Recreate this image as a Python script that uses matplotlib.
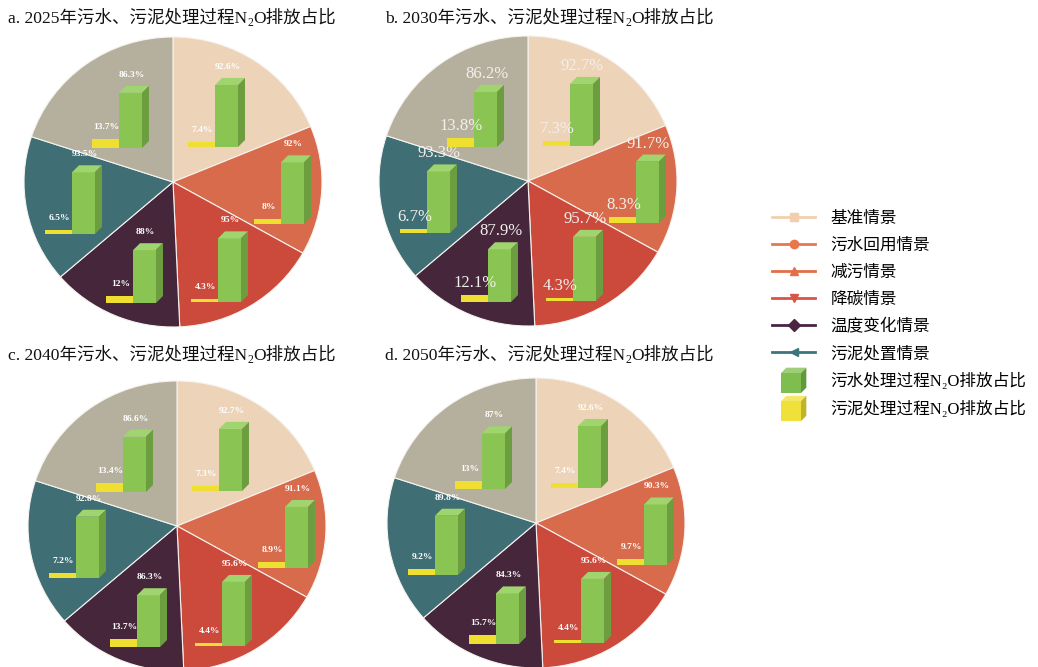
import numpy as np
import matplotlib
matplotlib.use('Agg')
import matplotlib.pyplot as plt
from matplotlib.lines import Line2D
from matplotlib.patches import Patch, Polygon
from matplotlib.legend_handler import HandlerBase
from matplotlib.colors import to_rgb

plt.rcParams['font.family'] = ['Liberation Serif', 'DejaVu Serif', 'Noto Sans CJK SC']

# ---- data ----
years = ['2025', '2030', '2040', '2050']
panel_tags = ['a', 'b', 'c', 'd']
scenarios = ['基准情景', '污水回用情景', '减污情景', '降碳情景', '温度变化情景', '污泥处置情景']

# pie slices, clockwise from 12 o'clock
slice_sizes = [67.5, 51.9, 58.0, 51.7, 59.1, 71.8]

# share of N2O from wastewater treatment (green) per slice, one row per year
wastewater_share = [
    [92.6, 92.0, 95.0, 88.0, 93.5, 86.3],
    [92.7, 91.7, 95.7, 87.9, 93.3, 86.2],
    [92.7, 91.1, 95.6, 86.3, 92.8, 86.6],
    [92.6, 90.3, 95.6, 84.3, 89.8, 87.0],
]
# share of N2O from sludge treatment (yellow)
sludge_share = [
    [7.4, 8.0, 4.3, 12.0, 6.5, 13.7],
    [7.3, 8.3, 4.3, 12.1, 6.7, 13.8],
    [7.3, 8.9, 4.4, 13.7, 7.2, 13.4],
    [7.4, 9.7, 4.4, 15.7, 9.2, 13.0],
]

# ---- styling / layout ----
W, H = 1038, 667
slice_colors = ['#EDD3B7', '#D86B4C', '#CB4A3B', '#45263B', '#3F6F75', '#B5B09E']
legend_colors = ['#F1CFAE', '#E8774E', '#E46E4A', '#D95347', '#4A2541', '#3E747B']
legend_markers = ['s', 'o', '^', 'v', 'D', '<']
green_front, green_top, green_side = '#8AC553', '#A0D46E', '#6C9E3F'
yellow_c = '#EEDF30'

pie_centers = [(173, 182), (528, 181), (177, 526), (536, 523)]
rx, ry = 149, 145
title_pos = [(8, 18), (385, 18), (8, 355), (385, 355)]

# green bar left edge / baseline relative to pie centre (px, y downward)
bar_offsets = [(42, -35), (108, 42), (45, 120), (-40, 121), (-101, 52), (-54, -34)]
px_per_pct = [0.67, 0.67, 0.67, 0.60, 0.66, 0.64]
yellow_w, green_w, depth = 27, 23, 7


def fig_box(left, top, w, h):
    return [left / W, 1 - (top + h) / H, w / W, h / H]


fig = plt.figure(figsize=(W / 100, H / 100), dpi=100)

for p in range(4):
    cx, cy = pie_centers[p]
    ax = fig.add_axes(fig_box(cx - 1.25 * rx, cy - 1.25 * ry, 2.5 * rx, 2.5 * ry))
    ax.pie(slice_sizes, colors=slice_colors, startangle=90, counterclock=False,
           wedgeprops=dict(edgecolor='#f6f3ef', linewidth=0.8))
    ax.set_aspect('auto')
    ax.set_xlim(-1.25, 1.25)
    ax.set_ylim(-1.25, 1.25)

    # title with subscript
    tx, ty = title_pos[p]
    t1 = ax.annotate('%s. %s年污水、污泥处理过程N' % (panel_tags[p], years[p]),
                     xy=(tx, H - ty), xycoords='figure pixels', fontsize=12.6,
                     ha='left', va='center', color='#111111', annotation_clip=False)
    t2 = ax.annotate('2', xy=(1, 0), xycoords=t1, xytext=(0.2, -1.8),
                     textcoords='offset points', fontsize=8.5, ha='left', va='bottom',
                     color='#111111', annotation_clip=False)
    ax.annotate('O排放占比', xy=(1, 0), xycoords=(t2, t1), xytext=(0.2, 0),
                textcoords='offset points', fontsize=12.6, ha='left', va='bottom',
                color='#111111', annotation_clip=False)

    if p == 1:
        lab_kw = dict(fontsize=12, fontweight='normal', color='#f3efeb')
    else:
        lab_kw = dict(fontsize=6.8, fontweight='bold', color='white')

    for s in range(6):
        dx, dy = bar_offsets[s]
        ppp = px_per_pct[s]
        gx, by = cx + dx, cy + dy
        box_w = yellow_w + green_w + depth
        box_h = 100 * ppp
        bax = fig.add_axes(fig_box(gx - yellow_w, by - box_h, box_w, box_h))
        bax.set_xlim(0, box_w)
        bax.set_ylim(0, 100)
        bax.axis('off')
        bax.patch.set_alpha(0)

        yv = sludge_share[p][s]
        gv = wastewater_share[p][s]
        ddy = depth / ppp

        bax.bar(0, yv, width=yellow_w, align='edge', color=yellow_c,
                edgecolor='none', clip_on=False)
        bax.bar(yellow_w, gv, width=green_w, align='edge', color=green_front,
                edgecolor='none', clip_on=False)
        x0, x1 = yellow_w, yellow_w + green_w
        top_face = Polygon([(x0, gv), (x1, gv), (x1 + depth, gv + ddy), (x0 + depth, gv + ddy)],
                           closed=True, facecolor=green_top, edgecolor='none', clip_on=False)
        side_face = Polygon([(x1, 0), (x1 + depth, ddy), (x1 + depth, gv + ddy), (x1, gv)],
                            closed=True, facecolor=green_side, edgecolor='none', clip_on=False)
        bax.add_patch(top_face)
        bax.add_patch(side_face)

        bax.annotate('%g%%' % gv, xy=(x0 + green_w / 2 + 1, gv + ddy),
                     xytext=(0, 11), textcoords='offset pixels', ha='center', va='center',
                     annotation_clip=False, **lab_kw)
        bax.annotate('%g%%' % yv, xy=(yellow_w / 2 + 1, yv),
                     xytext=(0, 12), textcoords='offset pixels', ha='center', va='center',
                     annotation_clip=False, **lab_kw)


class CubeHandler(HandlerBase):
    def create_artists(self, legend, orig_handle, xdescent, ydescent, width, height,
                       fontsize, trans):
        front = np.array(to_rgb(orig_handle.get_facecolor()))
        side = front * 0.8
        top = front + (1 - front) * 0.25
        s = 1.2 * fontsize
        d = 0.32 * fontsize
        x0 = -xdescent + (width - s - d) / 2
        y0 = -ydescent + height / 2 - (s + d) / 2
        f = Polygon([(x0, y0), (x0 + s, y0), (x0 + s, y0 + s), (x0, y0 + s)],
                    facecolor=front, edgecolor='none', transform=trans)
        t = Polygon([(x0, y0 + s), (x0 + s, y0 + s), (x0 + s + d, y0 + s + d), (x0 + d, y0 + s + d)],
                    facecolor=top, edgecolor='none', transform=trans)
        sd = Polygon([(x0 + s, y0), (x0 + s + d, y0 + d), (x0 + s + d, y0 + s + d), (x0 + s, y0 + s)],
                     facecolor=side, edgecolor='none', transform=trans)
        return [f, t, sd]


handles = []
for i in range(6):
    handles.append(Line2D([], [], color=legend_colors[i], lw=2, marker=legend_markers[i],
                          markersize=6, label=scenarios[i]))
handles.append(Patch(facecolor='#7DBE4E', label='污水处理过程N₂O排放占比'))
handles.append(Patch(facecolor='#EFE03A', label='污泥处理过程N₂O排放占比'))

fig.legend(handles=handles, loc='upper left', bbox_to_anchor=(772 / W, 1 - 211 / H),
           frameon=False, fontsize=12, handlelength=2.6, handletextpad=0.9,
           labelspacing=0.66, borderaxespad=0, borderpad=0,
           handler_map={Patch: CubeHandler()})

fig.savefig('out.png', dpi=100)
